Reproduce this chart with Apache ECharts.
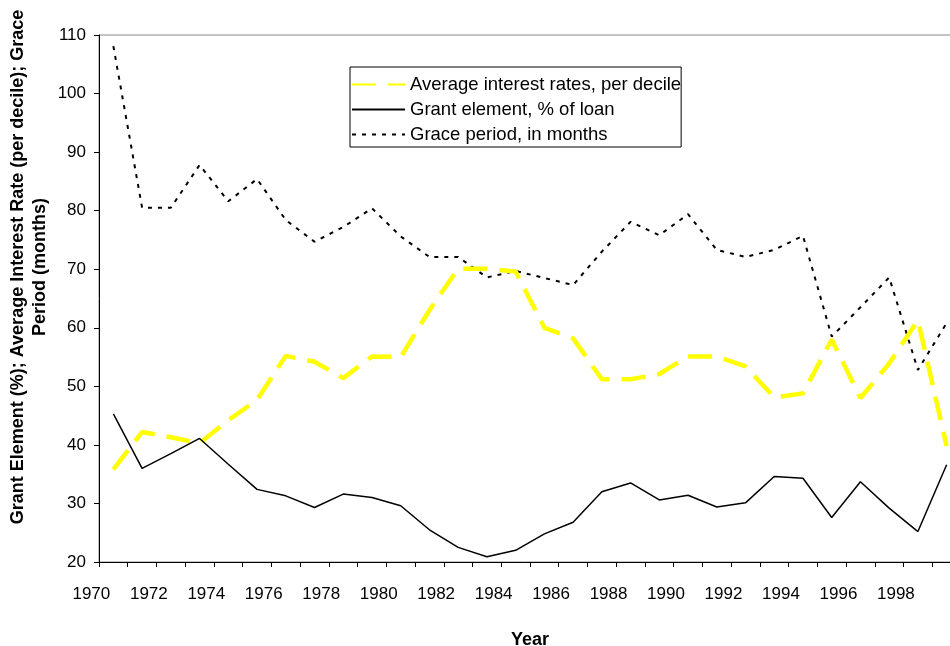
<!DOCTYPE html>
<html>
<head>
<meta charset="utf-8">
<script src="https://cdn.jsdelivr.net/npm/echarts@6/dist/echarts.min.js"></script>
<style>
html,body{margin:0;padding:0;background:#fff;}
#chart{width:950px;height:646px;}
</style>
</head>
<body>
<div id="chart"></div>
<script>
const years = [1970,1971,1972,1973,1974,1975,1976,1977,1978,1979,1980,1981,1982,1983,1984,1985,1986,1987,1988,1989,1990,1991,1992,1993,1994,1995,1996,1997,1998,1999];
const interestRates = [35.8,42.2,41.3,40.3,44.2,47.7,55.2,54.2,51.4,55.1,55.0,63.0,70.1,70.1,69.6,60.0,58.2,51.2,51.2,52.1,55.1,55.1,53.4,48.1,48.8,58.0,48.0,53.9,61.3,39.8];
const grantElement = [45.3,36.0,38.5,41.1,36.7,32.4,31.3,29.3,31.6,31.0,29.6,25.5,22.5,20.9,22.0,24.8,26.8,32.0,33.5,30.6,31.4,29.4,30.1,34.6,34.3,27.6,33.7,29.2,25.2,36.6];
const gracePeriod = [108.1,80.5,80.5,87.8,81.6,85.4,78.4,74.7,77.2,80.4,75.6,72.1,72.1,68.6,69.7,68.5,67.3,73.0,78.1,75.8,79.4,73.3,72.1,73.3,75.7,58.5,63.5,68.6,52.8,60.8];
const seriesNames = ['Average interest rates, per decile','Grant element, % of loan','Grace period, in months'];
const yTitle = 'Grant Element (%); Average Interest Rate (per decile); Grace\nPeriod (months)';
const xTitle = 'Year';

const FONT = "'Liberation Sans', Arial, sans-serif";
const chart = echarts.init(document.getElementById('chart'), null, {renderer:'canvas'});
chart.setOption({
  animation:false,
  backgroundColor:'#fff',
  textStyle:{fontFamily:FONT,color:'#000'},
  grid:{left:99, top:35, width:862, bottom:84, show:true, borderColor:'#888', borderWidth:1,
        containLabel:false, outerBoundsMode:'none'},
  graphic:[{
    type:'text', rotation:Math.PI/2, x:29, y:267, z:10,
    style:{text:yTitle, font:"bold 18px 'Liberation Sans', Arial, sans-serif", fill:'#000',
           align:'center', verticalAlign:'middle', lineHeight:22}
  }],
  legend:{
    orient:'vertical', left:350, top:67,
    padding:[8,0,3,1],
    itemWidth:53, itemHeight:14, itemGap:6,
    borderColor:'#000', borderWidth:1,
    itemStyle:{opacity:0},
    textStyle:{fontFamily:FONT,fontSize:18.5,color:'#000',lineHeight:14},
    data:seriesNames
  },
  xAxis:{
    type:'category', data:years, boundaryGap:true,
    name:xTitle, nameLocation:'middle', nameGap:69,
    nameTextStyle:{fontFamily:FONT,fontSize:18,fontWeight:'bold',color:'#000'},
    axisLine:{lineStyle:{color:'#000',width:1}},
    axisTick:{show:true,interval:0,length:5,inside:false,alignWithLabel:false,lineStyle:{color:'#000'}},
    axisLabel:{interval:1,fontFamily:FONT,fontSize:17,color:'#000',margin:24,padding:[0,44,0,0]},
    splitLine:{show:false}
  },
  yAxis:{
    type:'value', min:20, max:110, interval:10,
    axisLine:{show:true,lineStyle:{color:'#000',width:1}},
    axisTick:{show:true,length:5,inside:false,lineStyle:{color:'#000'}},
    axisLabel:{fontFamily:FONT,fontSize:17,color:'#000',margin:13},
    splitLine:{show:false}
  },
  series:[
    {name:seriesNames[0], type:'line', data:interestRates, symbol:'none', showSymbol:false,
     lineStyle:{color:'#FFFF00', width:4.5, type:[24,12]}, itemStyle:{color:'#FFFF00'}, z:3},
    {name:seriesNames[1], type:'line', data:grantElement, symbol:'none', showSymbol:false,
     lineStyle:{color:'#000', width:1.5, type:'solid'}, itemStyle:{color:'#000'}, z:4},
    {name:seriesNames[2], type:'line', data:gracePeriod, symbol:'none', showSymbol:false,
     lineStyle:{color:'#000', width:2, type:[4,6]}, itemStyle:{color:'#000'}, z:2}
  ]
});
</script>
</body>
</html>
